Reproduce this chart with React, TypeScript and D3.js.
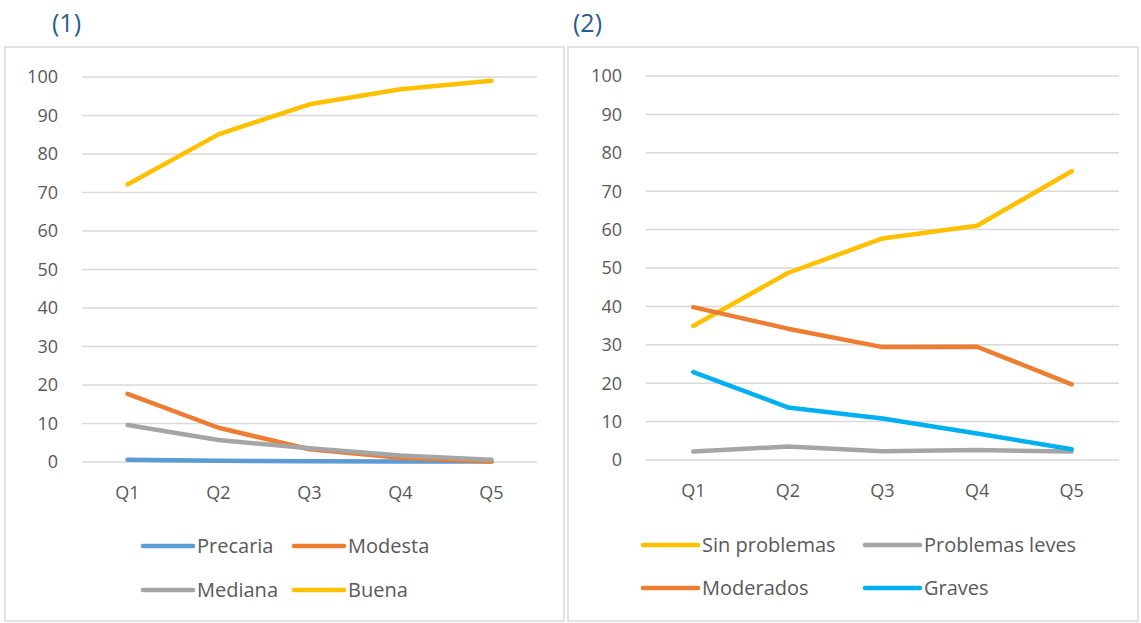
import React from "react";
import * as d3 from "d3";

const quintiles = ["Q1", "Q2", "Q3", "Q4", "Q5"];
const yTicks = [0, 10, 20, 30, 40, 50, 60, 70, 80, 90, 100];

// panel (1)
const precaria = [0.6, 0.3, 0.2, 0.1, 0.1];
const modesta = [17.7, 8.9, 3.3, 1.1, 0.1];
const mediana = [9.6, 5.7, 3.6, 1.7, 0.6];
const buena = [72.1, 85.1, 92.9, 96.8, 99.0];

// panel (2)
const sinProblemas = [34.9, 48.7, 57.7, 61.0, 75.2];
const problemasLeves = [2.2, 3.5, 2.3, 2.6, 2.2];
const moderados = [39.8, 34.2, 29.4, 29.5, 19.7];
const graves = [22.9, 13.7, 10.8, 6.9, 2.8];

const FONT = "'Open Sans', 'Noto Sans', sans-serif";
const TEXT = "#595959";

type Series = { name: string; values: number[]; color: string };

const left: Series[] = [
  { name: "Precaria", values: precaria, color: "#5B9BD5" },
  { name: "Modesta", values: modesta, color: "#ED7D31" },
  { name: "Mediana", values: mediana, color: "#A5A5A5" },
  { name: "Buena", values: buena, color: "#FFC000" },
];
const right: Series[] = [
  { name: "Sin problemas", values: sinProblemas, color: "#FFC000" },
  { name: "Problemas leves", values: problemasLeves, color: "#A5A5A5" },
  { name: "Moderados", values: moderados, color: "#ED7D31" },
  { name: "Graves", values: graves, color: "#00B0F0" },
];

function Panel({ label, box, plot, series, legend }: any) {
  const x = d3.scaleBand().domain(quintiles).range([plot.x0, plot.x1]);
  const y = d3.scaleLinear().domain([0, 100]).range([plot.y0, plot.y1]);
  const line = d3
    .line<number>()
    .x((_, i) => (x(quintiles[i]) as number) + x.bandwidth() / 2)
    .y((d) => y(d));

  return (
    <g>
      <text x={box.x + label.dx} y={32} fontSize={25} fill="#2B5C8F" fontFamily={FONT}>
        {label.text}
      </text>
      <rect x={box.x} y={box.y} width={box.w} height={box.h} fill="#fff" stroke="#D9D9D9" strokeWidth={1.5} />
      {yTicks.map((t) => (
        <g key={t}>
          <line x1={plot.x0} x2={plot.x1} y1={y(t)} y2={y(t)} stroke="#D9D9D9" strokeWidth={1.5} />
          <text x={plot.x0 - 24} y={y(t)} dy="0.35em" textAnchor="end" fontSize={18} fill={TEXT} fontFamily={FONT}>
            {t}
          </text>
        </g>
      ))}
      {quintiles.map((q) => (
        <text
          key={q}
          x={(x(q) as number) + x.bandwidth() / 2}
          y={y(0) + 37}
          textAnchor="middle"
          fontSize={18}
          fill={TEXT}
          fontFamily={FONT}
        >
          {q}
        </text>
      ))}
      {series.map((s: Series) => (
        <path
          key={s.name}
          d={line(s.values) as string}
          fill="none"
          stroke={s.color}
          strokeWidth={4.5}
          strokeLinecap="round"
          strokeLinejoin="round"
        />
      ))}
      {series.map((s: Series, i: number) => {
        const lx = legend.cols[i % 2];
        const ly = legend.rows[Math.floor(i / 2)];
        return (
          <g key={s.name}>
            <line x1={lx} x2={lx + legend.len} y1={ly} y2={ly} stroke={s.color} strokeWidth={4.5} strokeLinecap="round" />
            <text x={lx + legend.len + 4} y={ly} dy="0.35em" fontSize={20} fill={TEXT} fontFamily={FONT}>
              {s.name}
            </text>
          </g>
        );
      })}
    </g>
  );
}

export default function App() {
  return (
    <svg width={1141} height={623} style={{ position: "absolute", left: 0, top: 0, background: "#fff" }}>
      <rect width={1141} height={623} fill="#fff" />
      <Panel
        label={{ text: "(1)", dx: 47 }}
        box={{ x: 5, y: 47, w: 559, h: 574 }}
        plot={{ x0: 82, x1: 537, y0: 462, y1: 77 }}
        series={left}
        legend={{ cols: [143, 294], rows: [546, 590], len: 50 }}
      />
      <Panel
        label={{ text: "(2)", dx: 5 }}
        box={{ x: 568, y: 47, w: 570, h: 574 }}
        plot={{ x0: 646, x1: 1119, y0: 460, y1: 76 }}
        series={right}
        legend={{ cols: [643, 865], rows: [545, 588], len: 55 }}
      />
    </svg>
  );
}
